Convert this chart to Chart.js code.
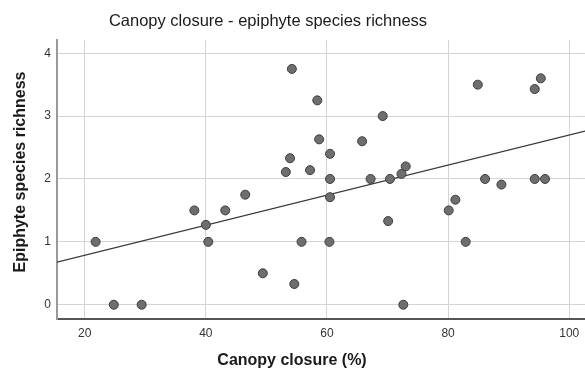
<!DOCTYPE html>
<html lang="en">
<head>
    <meta charset="UTF-8">
    <title>Canopy closure - epiphyte species richness</title>
    <script src="https://cdn.jsdelivr.net/npm/chart.js"></script>
    <style>
        html, body { margin: 0; padding: 0; background: #fff; overflow: hidden; }
        canvas { display: block; }
    </style>
</head>
<body>
    <canvas id="myChart" width="585" height="373"></canvas>

    <script>
        // data
        const canopy = [21.8, 24.8, 29.4, 38.1, 40.0, 40.4, 43.2, 46.5, 49.4,
            53.2, 53.9, 54.2, 54.6, 55.8, 57.2, 58.4, 58.7,
            60.4, 60.5, 60.5, 60.5, 65.8, 67.2, 69.2, 70.1, 70.4,
            72.3, 72.6, 73.0, 80.1, 81.2, 82.9, 84.9, 86.1, 88.8,
            94.3, 94.3, 95.3, 96.0];
        const richness = [1.0, 0, 0, 1.5, 1.27, 1.0, 1.5, 1.75, 0.5,
            2.11, 2.33, 3.75, 0.33, 1.0, 2.14, 3.25, 2.63,
            1.0, 2.4, 2.0, 1.71, 2.6, 2.0, 3.0, 1.33, 2.0,
            2.08, 0, 2.2, 1.5, 1.67, 1.0, 3.5, 2.0, 1.91,
            2.0, 3.43, 3.6, 2.0];
        const xTicks = [20, 40, 60, 80, 100];
        const yTicks = [0, 1, 2, 3, 4];

        const chartTitle = 'Canopy closure - epiphyte species richness';
        const xTitle = 'Canopy closure (%)';
        const yTitle = 'Epiphyte species richness';

        const xMin = 15.42, xMax = 102.6;
        const yMin = -0.227, yMax = 4.21;

        // least squares fit line
        const n = canopy.length;
        const mx = canopy.reduce((a, b) => a + b, 0) / n;
        const my = richness.reduce((a, b) => a + b, 0) / n;
        let sxy = 0, sxx = 0;
        canopy.forEach((x, i) => {
            sxy += (x - mx) * (richness[i] - my);
            sxx += (x - mx) * (x - mx);
        });
        const slope = sxy / sxx;
        const icpt = my - slope * mx;
        const fitLine = [xMin, xMax].map(x => ({ x: x, y: icpt + slope * x }));

        // titles drawn by hand so they sit where SPSS puts them
        const titlesPlugin = {
            id: 'titles',
            afterDraw(chart) {
                const ctx = chart.ctx;
                ctx.save();
                ctx.fillStyle = '#1a1a1a';
                ctx.textAlign = 'center';
                ctx.textBaseline = 'middle';
                ctx.font = '16.5px "Liberation Sans", Arial, sans-serif';
                ctx.fillText(chartTitle, 268, 21);
                ctx.font = 'bold 16px "Liberation Sans", Arial, sans-serif';
                ctx.fillText(xTitle, 292, 361);
                ctx.translate(21, 172);
                ctx.rotate(-Math.PI / 2);
                ctx.fillText(yTitle, 0, 0);
                ctx.restore();
            }
        };

        // no extra room for edge tick labels, the plot runs to the canvas edge
        function noPad(s) {
            s.paddingLeft = 0;
            s.paddingRight = 0;
            s.paddingTop = 0;
            s.paddingBottom = 0;
        }

        const ctx = document.getElementById('myChart').getContext('2d');
        new Chart(ctx, {
            type: 'scatter',
            data: {
                datasets: [{
                    type: 'scatter',
                    data: canopy.map((x, i) => ({ x: x, y: richness[i] })),
                    pointRadius: 4.5,
                    pointBackgroundColor: '#6e6e6e',
                    pointBorderColor: '#3c3c3c',
                    pointBorderWidth: 1,
                    order: 1
                }, {
                    type: 'line',
                    data: fitLine,
                    borderColor: '#3a3a3a',
                    borderWidth: 1.2,
                    pointRadius: 0,
                    fill: false,
                    order: 2
                }]
            },
            options: {
                responsive: false,
                animation: false,
                layout: {
                    autoPadding: false,
                    padding: { top: 40, left: 0, right: 0, bottom: 0 }
                },
                plugins: {
                    legend: { display: false },
                    tooltip: { enabled: false }
                },
                scales: {
                    x: {
                        type: 'linear',
                        min: xMin,
                        max: xMax,
                        afterBuildTicks: s => { s.ticks = xTicks.map(v => ({ value: v })); },
                        afterFit: s => { s.height = 54; noPad(s); },
                        grid: { color: '#d4d4d4', lineWidth: 1, drawTicks: false },
                        border: { color: '#555', width: 2 },
                        ticks: {
                            padding: 7,
                            color: '#333',
                            font: { family: '"Liberation Sans", Arial, sans-serif', size: 12 }
                        }
                    },
                    y: {
                        type: 'linear',
                        min: yMin,
                        max: yMax,
                        afterBuildTicks: s => { s.ticks = yTicks.map(v => ({ value: v })); },
                        afterFit: s => { s.width = 57; noPad(s); },
                        grid: { color: '#d4d4d4', lineWidth: 1, drawTicks: false },
                        border: { color: '#999', width: 2 },
                        ticks: {
                            padding: 6,
                            color: '#333',
                            font: { family: '"Liberation Sans", Arial, sans-serif', size: 12 }
                        }
                    }
                }
            },
            plugins: [titlesPlugin]
        });
    </script>
</body>
</html>
